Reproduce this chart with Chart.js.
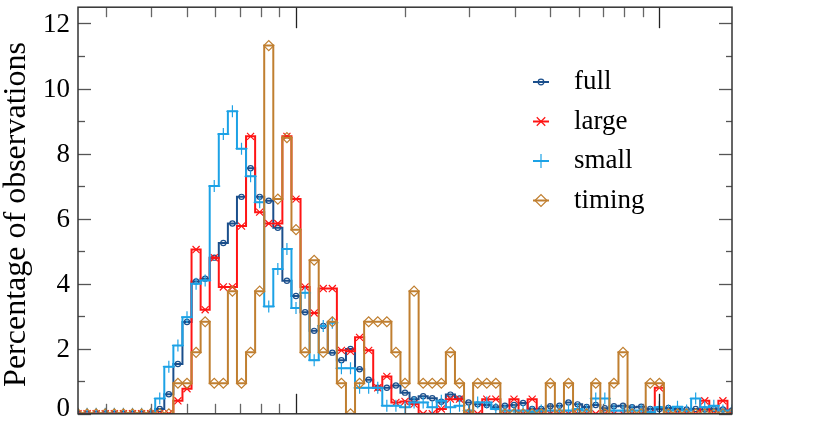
<!DOCTYPE html>
<html><head><meta charset="utf-8">
<script src="https://cdn.jsdelivr.net/npm/chart.js@4.4.1/dist/chart.umd.min.js"></script>
<style>html,body{margin:0;padding:0;background:#fff;}#wrap{width:830px;height:421px;}</style>
</head><body><div id="wrap"><canvas id="c" width="830" height="421"></canvas></div>
<script>
// bin centres, log10 of the x quantity (log-scaled x axis, 40 bins per decade)
const binCentersLog10 = [
0.400,0.425,0.450,0.475,0.500,0.525,0.550,0.575,0.600,0.625,
0.650,0.675,0.700,0.725,0.750,0.775,0.800,0.825,0.850,0.875,
0.900,0.925,0.950,0.975,1.000,1.025,1.050,1.075,1.100,1.125,
1.150,1.175,1.200,1.225,1.250,1.275,1.300,1.325,1.350,1.375,
1.400,1.425,1.450,1.475,1.500,1.525,1.550,1.575,1.600,1.625,
1.650,1.675,1.700,1.725,1.750,1.775,1.800,1.825,1.850,1.875,
1.900,1.925,1.950,1.975,2.000,2.025,2.050,2.075,2.100,2.125,
2.150,2.175,2.200];

const full = [
0,0,0,0,0,0,0,0,0,0.15,
0.6,1.53,2.82,4.07,4.15,4.8,5.25,5.85,6.67,7.55,
6.67,6.55,5.72,4.09,3.62,3.12,2.55,2.7,1.88,1.65,
1.99,1.37,1.05,0.8,0.8,0.87,0.65,0.45,0.54,0.48,
0.37,0.59,0.47,0.35,0.29,0.27,0.2,0.25,0.27,0.33,
0.15,0.15,0.23,0.25,0.35,0.29,0.21,0.27,0.17,0.23,
0.25,0.2,0.22,0.15,0.15,0.18,0.15,0.13,0.15,0.13,
0.15,0.13,0.1];

const large = [
0,0,0,0,0,0,0,0,0,0,
0,0.4,0.77,5.05,3.2,4.8,3.9,3.9,5.77,8.53,
6.2,5.85,5.85,8.53,6.6,3.9,3.1,3.85,3.85,1.95,
1.92,2.35,1.95,0.8,1.15,0.35,0.38,0.3,0,0,
0.15,0.45,0.45,0,0,0.45,0.45,0,0.45,0,
0.45,0,0,0,0,0,0,0,0,0,
0,0,0,0,0.8,0,0,0,0,0.4,
0,0.4,0];

const small = [
0,0,0,0,0,0,0,0,0,0.47,
1.45,2.1,2.97,4.0,4.1,7.0,8.6,9.3,8.15,7.3,
6.5,3.3,4.45,5.07,3.25,3.72,1.65,2.7,2.8,1.4,
1.4,0.8,0.8,0.8,0.25,0.25,0.2,0.35,0.35,0.2,
0.4,0.2,0.25,0.1,0.35,0.35,0.15,0.1,0.1,0.1,
0.05,0.1,0.1,0.1,0.1,0.15,0.1,0.47,0.47,0.1,
0.1,0.1,0.1,0.05,0.2,0.1,0.22,0.1,0.47,0.2,
0.25,0.1,0.1];

const timing = [
0,0,0,0,0,0,0,0,0,0,
0,0.94,0.94,1.89,2.83,0.94,0.94,3.77,0.94,1.89,
3.77,11.32,6.6,8.49,5.66,1.89,4.72,1.89,2.83,0.94,
0,0.94,2.83,2.83,2.83,1.89,0.94,3.77,0.94,0.94,
0.94,1.89,0.94,0,0.94,0.94,0.94,0,0,0,
0,0,0.94,0,0.94,0,0,0.94,0,0.94,
1.89,0,0,0.94,0.94,0,0,0,0,0,
0,0,0];

const seriesNames = ['full','large','small','timing'];
const yTickValues = [0,2,4,6,8,10,12];
const yMinorTickValues = [1,3,5,7,9,11];
const xMajorTickValues = [10,100];
const xMinorTickValues = [3,4,5,6,7,8,9,20,30,40,50,60,70,80,90];
const yTitle = 'Percentage of observations';

const COLORS = {full:'#1b4f8c', large:'#ff1414', small:'#1ca2e6', timing:'#c07f30'};
const STYLES = {
  full:   {pointStyle:'circle',   radius:2.6, legendRadius:2.8},
  large:  {pointStyle:'crossRot', radius:5,   legendRadius:6},
  small:  {pointStyle:'cross',    radius:6,   legendRadius:7},
  timing: {pointStyle:'rectRot',  radius:5,   legendRadius:6}
};
const SERIF = '"Liberation Serif","DejaVu Serif",serif';

function mk(name, vals, order){
  return {
    label: name,
    data: binCentersLog10.map((x,i)=>({x:x, y:vals[i]})),
    stepped: 'middle',
    borderColor: COLORS[name],
    borderWidth: 2,
    pointStyle: STYLES[name].pointStyle,
    pointRadius: STYLES[name].radius,
    pointBorderColor: COLORS[name],
    pointBackgroundColor: 'rgba(0,0,0,0)',
    pointBorderWidth: 1.2,
    fill: false,
    clip: 0,
    order: order
  };
}

const decor = {
  id:'decor',
  afterDatasetsDraw(chart){
    const {ctx, chartArea:a, scales:{x, y}} = chart;
    ctx.save();
    function seg(x1,y1,x2,y2){ctx.beginPath();ctx.moveTo(x1,y1);ctx.lineTo(x2,y2);ctx.stroke();}
    ctx.lineWidth = 1.3;
    ctx.strokeStyle = '#666';
    xMinorTickValues.forEach(t=>{
      const p = Math.round(x.getPixelForValue(Math.log10(t)))+0.5;
      seg(p,a.top,p,a.top+10); seg(p,a.bottom,p,a.bottom-10);
    });
    ctx.strokeStyle = '#222';
    xMajorTickValues.forEach(t=>{
      const p = Math.round(x.getPixelForValue(Math.log10(t)))+0.5;
      seg(p,a.top,p,a.top+21); seg(p,a.bottom,p,a.bottom-20);
    });
    ctx.strokeStyle = '#555';
    yTickValues.forEach(v=>{
      const p = Math.round(y.getPixelForValue(v))+0.5;
      seg(a.left,p,a.left+13,p); seg(a.right,p,a.right-13,p);
    });
    yMinorTickValues.forEach(v=>{
      const p = Math.round(y.getPixelForValue(v))+0.5;
      seg(a.left,p,a.left+7,p); seg(a.right,p,a.right-6,p);
    });
    ctx.strokeStyle = '#333';
    ctx.lineWidth = 1.5;
    ctx.strokeRect(a.left, a.top, a.right-a.left, a.bottom-a.top);
    ctx.fillStyle = '#000';
    ctx.font = '27px '+SERIF;
    ctx.textAlign = 'right';
    ctx.textBaseline = 'middle';
    yTickValues.forEach(v=>{
      let p = y.getPixelForValue(v);
      p = Math.min(p, 408);
      ctx.fillText(String(v), 70, p+1);
    });
    ctx.save();
    ctx.translate(17, (a.top+a.bottom)/2+4);
    ctx.rotate(-Math.PI/2);
    ctx.textAlign = 'center';
    ctx.textBaseline = 'middle';
    ctx.font = '32px '+SERIF;
    ctx.fillText(yTitle, 0, 0);
    ctx.restore();
    const ly = [82, 121.5, 161, 200.5];
    chart.data.datasets.forEach((ds, k)=>{
      const name = seriesNames[k];
      const yy = ly[k];
      ctx.strokeStyle = COLORS[name];
      ctx.lineWidth = 2;
      seg(533, yy, 549, yy);
      ctx.lineWidth = 1.2;
      ctx.fillStyle = 'rgba(0,0,0,0)';
      Chart.helpers.drawPoint(ctx, {pointStyle: STYLES[name].pointStyle, radius: STYLES[name].legendRadius, rotation:0, borderWidth:1.2}, 541, yy);
      ctx.fillStyle = '#000';
      ctx.font = '27px '+SERIF;
      ctx.textAlign = 'left';
      ctx.textBaseline = 'alphabetic';
      ctx.fillText(name, 574, yy+7);
    });
    ctx.restore();
  }
};

new Chart(document.getElementById('c'), {
  type: 'line',
  data: { datasets: [mk('full',full,3), mk('large',large,2), mk('small',small,1), mk('timing',timing,0)] },
  options: {
    responsive: false,
    devicePixelRatio: 1,
    animation: false,
    layout: {padding: {left:78, right:98, top:3, bottom:3}},
    plugins: {legend:{display:false}, tooltip:{enabled:false}},
    scales: {
      x: {type:'linear', min:0.4, max:2.2, display:false},
      y: {type:'linear', min:0, max:12.5, display:false}
    }
  },
  plugins: [decor]
});
</script>
</body></html>
